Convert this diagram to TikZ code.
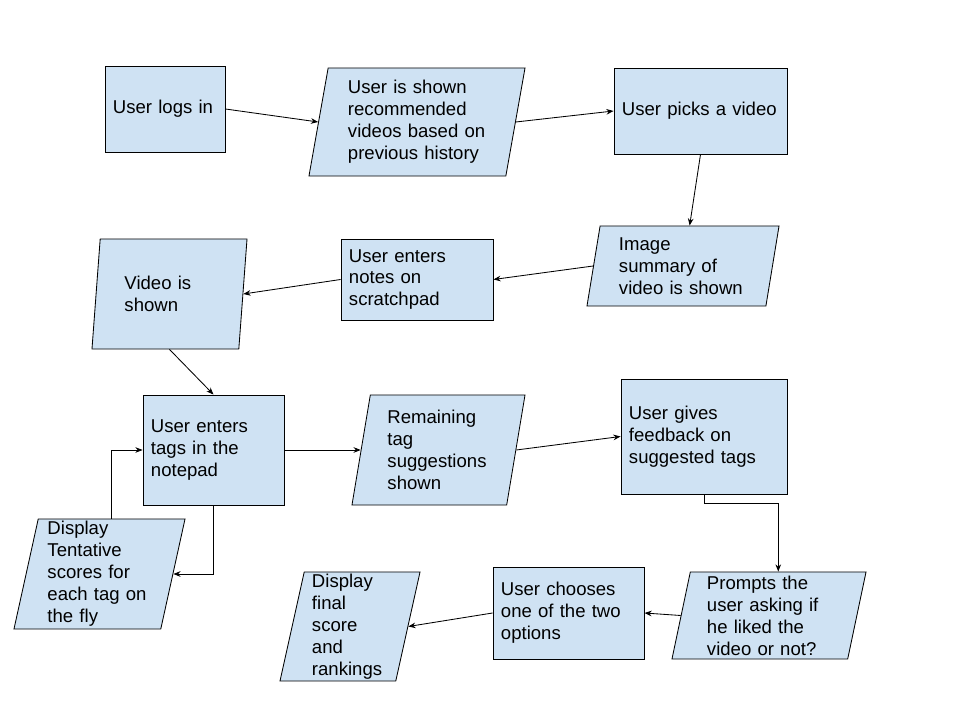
\documentclass[tikz,border=0pt]{standalone}
\usepackage{fontspec}
\setmainfont{Liberation Sans}
\usepackage{tikz}
\usetikzlibrary{arrows.meta,positioning,shapes.geometric}
\usepackage{xcolor}
\definecolor{boxblue}{HTML}{CFE2F3}

\begin{document}
\begin{tikzpicture}[x=0.025cm, y=-0.025cm, semithick, >={Stealth[length=1.8mm, width=1.4mm]},
  proc/.style={draw, fill=boxblue, align=left, inner xsep=0.2cm, font=\fontsize{13.2}{15.6}\selectfont},
  io/.style={draw, fill=boxblue, trapezium, trapezium left angle=77, trapezium right angle=103,
    trapezium stretches body, align=left, inner sep=0pt, font=\fontsize{13.2}{15.6}\selectfont}]
  \useasboundingbox (0,0) rectangle (960,720);

  % top row
  \node[proc, minimum width=3cm, minimum height=2.15cm, text width=2.6cm] (login) at (165,109) {User logs in};
  \node[io, minimum width=5.4cm, minimum height=2.7cm, text width=3.45cm] (shown) at (417,122) {User is shown\\recommended\\videos based on\\previous history};
  \node[proc, minimum width=4.325cm, minimum height=2.15cm, text width=3.925cm] (picks) at (700.5,111) {User picks a video};

  % second row
  \node[io, minimum width=4.8cm, minimum height=2cm, text width=3.2cm] (summary) at (683,266) {Image\\summary of\\video is shown};
  \node[proc, minimum width=3.8cm, minimum height=2.025cm, text width=3.4cm] (notes) at (417,279.5) {User enters\\notes on\\scratchpad};
  \node[io, minimum width=3.875cm, minimum height=2.75cm, text width=2.25cm] (video) at (169.5,294) {Video is\\shown};

  % third row
  \node[proc, minimum width=3.525cm, minimum height=2.75cm, text width=3.125cm] (tags) at (213.5,450) {User enters\\tags in the\\notepad};
  \node[io, minimum width=4.325cm, minimum height=2.75cm, text width=2.55cm] (remaining) at (438.5,450) {Remaining\\tag\\suggestions\\shown};
  \node[proc, minimum width=4.15cm, minimum height=2.875cm, text width=3.75cm] (feedback) at (704,436.5) {User gives\\feedback on\\suggested tags};

  % bottom row
  \node[io, minimum width=4.275cm, minimum height=2.75cm, text width=2.6cm] (tentative) at (99.5,574) {Display\\Tentative\\scores for\\each tag on\\the fly};
  \node[io, minimum width=3.5cm, minimum height=2.725cm, text width=1.9cm] (final) at (350,626.5) {Display\\final\\score\\and\\rankings};
  \node[proc, minimum width=3.775cm, minimum height=2.3cm, text width=3.375cm] (chooses) at (568.5,613) {User chooses\\one of the two\\options};
  \node[io, minimum width=4.85cm, minimum height=2.175cm, text width=3.1cm] (prompts) at (769,615.5) {Prompts the\\user asking if\\he liked the\\video or not?};

  \draw[->] (login.east) -- (shown.left side);
  \draw[->] (shown.right side) -- (picks.west);
  \draw[->] (picks.south) -- (summary.top side);
  \draw[->] (summary.left side) -- (notes.east);
  \draw[->] (notes.west) -- (video.right side);
  \draw[->] (video.south) -- (tags.north);
  \draw[->] (tags.east) -- (remaining.left side);
  \draw[->] (remaining.right side) -- (feedback.west);
  \draw[->] (feedback.south) -- ++(0,9) -| (prompts.top side);
  \draw[->] (prompts.left side) -- (chooses.east);
  \draw[->] (chooses.west) -- (final.right side);
  \draw[->] (tags.south) |- (tentative.right side);
  \draw[->] (tentative.top side) |- (tags.west);
\end{tikzpicture}
\end{document}
